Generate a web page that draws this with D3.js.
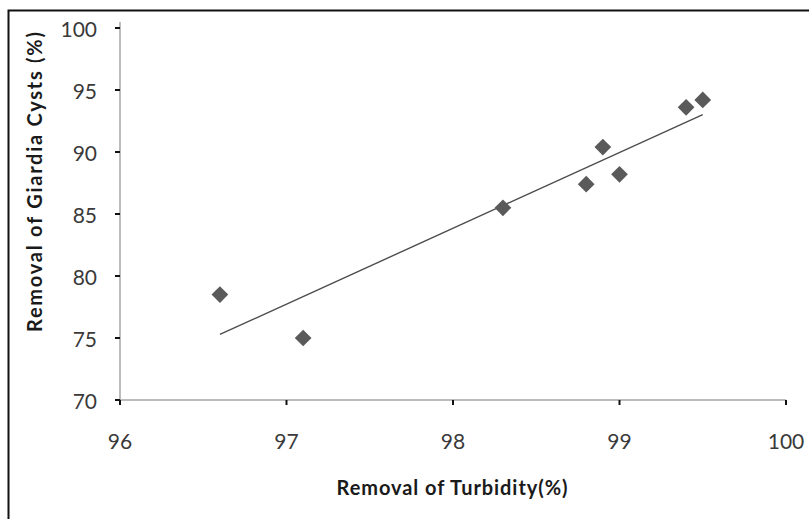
<!DOCTYPE html>
<html>
<head>
<meta charset="utf-8">
<script src="https://cdn.jsdelivr.net/npm/d3@7.9.0/dist/d3.min.js"></script>
<style>
  body { margin: 0; background: #fff; }
  svg { display: block; }
  .tick-label { font-family: Lato, "Open Sans", sans-serif; font-size: 21px; fill: #3a3a3a; }
  .axis-title { font-family: Lato, "Open Sans", sans-serif; font-weight: bold; fill: #1a1a1a; }
</style>
</head>
<body>
<svg id="chart" width="809" height="519"></svg>
<script>
// turbidity removal (%) vs giardia cyst removal (%)
const turbidity = [96.6, 97.1, 98.3, 98.8, 98.9, 99.0, 99.4, 99.5];
const giardia = [78.5, 75.0, 85.5, 87.4, 90.4, 88.2, 93.6, 94.2];

const xTicks = [96, 97, 98, 99, 100];
const yTicks = [70, 75, 80, 85, 90, 95, 100];

const xTitle = 'Removal of Turbidity(%)';
const yTitle = 'Removal of Giardia Cysts (%)';

const svg = d3.select('#chart');

// outer frame (only top and left edges fall inside the picture)
svg.append('path')
  .attr('d', 'M8.5,540 V10.5 H830')
  .attr('fill', 'none')
  .attr('stroke', '#111')
  .attr('stroke-width', 2);

const x = d3.scaleLinear().domain([96, 100]).range([120, 786]);
const y = d3.scaleLinear().domain([70, 100]).range([400, 28]);

// axis lines
svg.append('line')
  .attr('x1', x(96)).attr('x2', x(100))
  .attr('y1', y(70)).attr('y2', y(70))
  .attr('stroke', '#a6a6a6').attr('stroke-width', 1.5);
svg.append('line')
  .attr('x1', x(96)).attr('x2', x(96))
  .attr('y1', y(70)).attr('y2', y(100) - 6)
  .attr('stroke', '#a6a6a6').attr('stroke-width', 1.5);

// y ticks + labels
yTicks.forEach((t) => {
  svg.append('line')
    .attr('x1', x(96) - 5).attr('x2', x(96))
    .attr('y1', y(t)).attr('y2', y(t))
    .attr('stroke', '#111').attr('stroke-width', 2);
  svg.append('text')
    .attr('class', 'tick-label')
    .attr('x', 97).attr('y', y(t))
    .attr('text-anchor', 'end')
    .attr('dominant-baseline', 'central')
    .text(t);
});

// x ticks + labels
xTicks.forEach((t) => {
  svg.append('line')
    .attr('x1', x(t)).attr('x2', x(t))
    .attr('y1', y(70)).attr('y2', y(70) + 5)
    .attr('stroke', '#111').attr('stroke-width', 2);
  svg.append('text')
    .attr('class', 'tick-label')
    .attr('x', x(t)).attr('y', 440)
    .attr('text-anchor', 'middle')
    .attr('dominant-baseline', 'central')
    .text(t);
});

// linear trend line (least squares)
const mx = d3.mean(turbidity), my = d3.mean(giardia);
let sxy = 0, sxx = 0;
turbidity.forEach((v, i) => {
  sxy += (v - mx) * (giardia[i] - my);
  sxx += (v - mx) * (v - mx);
});
const slope = sxy / sxx;
const icpt = my - slope * mx;
const x0 = d3.min(turbidity), x1 = d3.max(turbidity);
svg.append('line')
  .attr('x1', x(x0)).attr('y1', y(icpt + slope * x0))
  .attr('x2', x(x1)).attr('y2', y(icpt + slope * x1))
  .attr('stroke', '#4d4d4d').attr('stroke-width', 1.4);

// diamond markers
const diamond = d3.symbol().type(d3.symbolSquare).size(140);
turbidity.forEach((v, i) => {
  svg.append('path')
    .attr('d', diamond())
    .attr('transform', `translate(${x(v)},${y(giardia[i])}) rotate(45)`)
    .attr('fill', '#5a5a5a');
});

// axis titles
svg.append('text')
  .attr('class', 'axis-title')
  .attr('x', 452).attr('y', 495)
  .attr('text-anchor', 'middle')
  .style('font-size', '20px')
  .attr('textLength', 231)
  .attr('lengthAdjust', 'spacing')
  .text(xTitle);

svg.append('text')
  .attr('class', 'axis-title')
  .attr('transform', 'translate(42,182) rotate(-90)')
  .attr('text-anchor', 'middle')
  .style('font-size', '20px')
  .attr('textLength', 300)
  .attr('lengthAdjust', 'spacing')
  .text(yTitle);
</script>
</body>
</html>
